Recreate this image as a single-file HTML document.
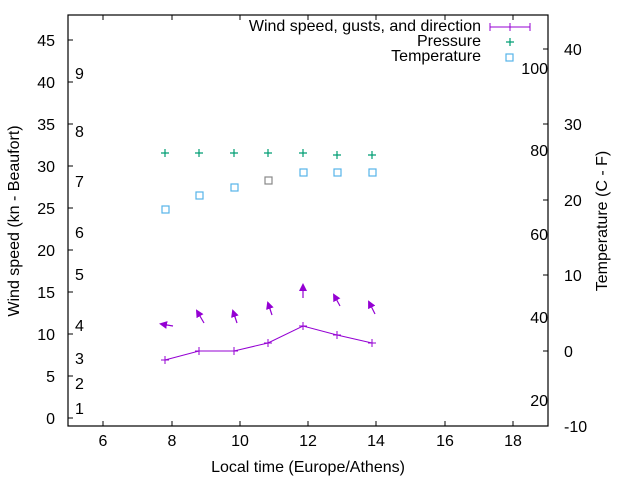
<!DOCTYPE html>
<html><head><style>body{margin:0;background:#fff}svg text{font-family:"Liberation Sans",sans-serif;font-size:16px;fill:#000}</style></head><body>
<svg width="640" height="480" xmlns="http://www.w3.org/2000/svg">
<defs><marker id="ah" markerWidth="8" markerHeight="8" refX="6" refY="4" orient="auto" markerUnits="userSpaceOnUse"><path d="M0,0 L8,4 L0,8 z" fill="#9400d3"/></marker></defs>
<rect x="68" y="15" width="480" height="411" fill="none" stroke="#000" stroke-width="1.2"/>
<g stroke="#000" stroke-width="1">
<path d="M103,426v-5M172,426v-5M240,426v-5M308,426v-5M376,426v-5M445,426v-5M513,426v-5M103,15v5M172,15v5M240,15v5M308,15v5M376,15v5M445,15v5M513,15v5"/>
<path d="M68,418h5M68,376h5M68,334h5M68,292h5M68,250h5M68,208h5M68,166h5M68,124h5M68,82h5M68,40h5"/>
<path d="M548,426h-5M548,351h-5M548,275h-5M548,200h-5M548,124h-5M548,49h-5"/>
</g>
<g text-anchor="middle">
<text x="103" y="446">6</text><text x="172" y="446">8</text><text x="240" y="446">10</text><text x="308" y="446">12</text><text x="376" y="446">14</text><text x="445" y="446">16</text><text x="513" y="446">18</text>
</g>
<g text-anchor="end">
<text x="55" y="424">0</text><text x="55" y="382">5</text><text x="55" y="340">10</text><text x="55" y="298">15</text><text x="55" y="256">20</text><text x="55" y="214">25</text><text x="55" y="172">30</text><text x="55" y="130">35</text><text x="55" y="88">40</text><text x="55" y="46">45</text>
<text x="548" y="406">20</text><text x="548" y="323">40</text><text x="548" y="240">60</text><text x="548" y="156">80</text><text x="548" y="74">100</text>
</g>
<g>
<text x="75" y="414">1</text><text x="75" y="389">2</text><text x="75" y="364">3</text><text x="75" y="331">4</text><text x="75" y="280">5</text><text x="75" y="238">6</text><text x="75" y="187">7</text><text x="75" y="137">8</text><text x="75" y="79">9</text>
<text x="564" y="432">-10</text><text x="564" y="357">0</text><text x="564" y="281">10</text><text x="564" y="206">20</text><text x="564" y="130">30</text><text x="564" y="55">40</text>
</g>
<text x="308" y="472" text-anchor="middle">Local time (Europe/Athens)</text>
<text transform="translate(19,221) rotate(-90)" text-anchor="middle">Wind speed (kn - Beaufort)</text>
<text transform="translate(607,221) rotate(-90)" text-anchor="middle">Temperature (C - F)</text>
<g text-anchor="end">
<text x="481" y="31">Wind speed, gusts, and direction</text><text x="481" y="46">Pressure</text><text x="481" y="61">Temperature</text>
</g>
<g stroke="#9400d3" stroke-width="1" fill="none">
<path d="M490,27h40M490,23v8M530,23v8M510,23v8"/>
<polyline points="165,360 199,351 234,351 268,343 303,326 337,335 372,343"/>
<path d="M161,360h8M165,356v8M195,351h8M199,347v8M230,351h8M234,347v8M264,343h8M268,339v8M299,326h8M303,322v8M333,335h8M337,331v8M368,343h8M372,339v8"/>
<g stroke-width="1.2" marker-end="url(#ah)">
<line x1="173" y1="326" x2="161" y2="324"/><line x1="204" y1="323" x2="197" y2="311"/><line x1="237" y1="323" x2="233" y2="311"/><line x1="272" y1="315" x2="268" y2="303"/><line x1="303" y1="298" x2="303" y2="285"/><line x1="340" y1="306" x2="334" y2="295"/><line x1="375" y1="314" x2="369" y2="302"/>
</g></g>
<g stroke="#009e73" stroke-width="1.2">
<path d="M506,42h8M510,38v8M161,153h8M165,149v8M195,153h8M199,149v8M230,153h8M234,149v8M264,153h8M268,149v8M299,153h8M303,149v8M333,155h8M337,151v8M368,155h8M372,151v8"/>
</g>
<g stroke="#56b4e9" stroke-width="1.2" fill="none">
<rect x="506" y="54" width="7" height="7"/>
<rect x="162" y="206" width="7" height="7"/><rect x="196" y="192" width="7" height="7"/><rect x="231" y="184" width="7" height="7"/><rect x="265" y="177" width="7" height="7" stroke="#888"/><rect x="300" y="169" width="7" height="7"/><rect x="334" y="169" width="7" height="7"/><rect x="369" y="169" width="7" height="7"/>
</g>
</svg>
</body></html>
